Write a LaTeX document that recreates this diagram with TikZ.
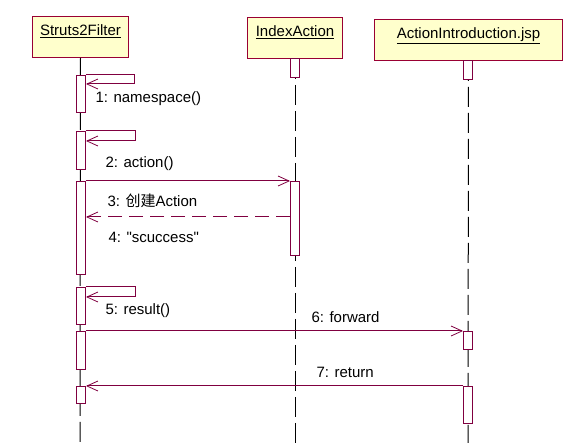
\documentclass[tikz,border=0pt]{standalone}
\usepackage{fontspec}
\setmainfont{Liberation Sans}
\newfontfamily\cjk{Noto Sans CJK SC}
\usetikzlibrary{arrows.meta, positioning}
\definecolor{umlline}{RGB}{128,0,64}
\definecolor{umlborder}{RGB}{153,0,51}
\definecolor{umlfill}{RGB}{255,255,204}

\begin{document}
\begin{tikzpicture}[
    x=1pt, y=-1pt, line width=1pt,
    font=\fontsize{15}{18}\selectfont,
    obj/.style={draw=umlborder, fill=umlfill, minimum height=41pt, anchor=north west, inner sep=0pt},
    act/.style={draw=umlline, fill=white, minimum width=9pt, anchor=north west, inner sep=0pt},
    life/.style={black, dash pattern=on 20pt off 6pt},
    msg/.style={umlline, -{Straight Barb[length=11pt, width=10pt, line width=0.8pt]}},
    ret/.style={msg, dash pattern=on 14pt off 7pt},
    lbl/.style={anchor=west, inner sep=0pt},
]
\useasboundingbox (0,0) rectangle (579,443);
% objects
\node[obj, minimum width=96pt] (filter) at (32,16) {};
\node[anchor=north] at ([yshift=-5pt]filter.north) {\underline{Struts2Filter}};
\node[obj, minimum width=95pt] (index) at (247,17) {};
\node[anchor=north] at ([yshift=-5pt]index.north) {\underline{IndexAction}};
\node[obj, minimum width=188pt] (jsp) at (374,19) {};
\node[anchor=north] at ([yshift=-5pt]jsp.north) {\underline{ActionIntroduction.jsp}};
% lifelines
\coordinate (filterEnd) at (80,443);
\coordinate (indexEnd) at (295,443);
\coordinate (jspEnd) at (468,443);
\draw[life] (filter.south) -- (filterEnd);
\draw[life] (index.south) -- (indexEnd);
\draw[life] (jsp.south) -- (jspEnd);
% activations
\node[act, minimum height=37pt] (f1) at (76,75) {};
\node[act, minimum height=38pt] (f2) at (76,131) {};
\node[act, minimum height=93pt] (f3) at (76,181) {};
\node[act, minimum height=37pt] (f4) at (76,287) {};
\node[act, minimum height=38pt] (f5) at (76,331) {};
\node[act, minimum height=17pt] (f6) at (76,386) {};
\node[act, minimum height=19pt] (i0) at (290,58) {};
\node[act, minimum height=74pt] (i1) at (290,181) {};
\node[act, minimum height=19pt] (j0) at (463,60) {};
\node[act, minimum height=18pt] (j1) at (463,331) {};
\node[act, minimum height=37pt] (j2) at (463,386) {};
% messages
\draw[msg] (f1.north east) -- ++(48,0) |- ([yshift=-9pt]f1.north east);
\node[lbl] (m1) at (95,99) {1: namespace()};
\draw[msg] (f2.north east) -- ++(49,0) |- ([yshift=-10pt]f2.north east);
\node[lbl] (m2) at (105,164) {2: action()};
\draw[msg] (f3.north east) -- (i1.north west);
\node[lbl] (m3) at (107,201) {3: {\cjk 创建}Action};
\draw[ret] ([yshift=-36pt]i1.north west) -- ([yshift=-36pt]f3.north east);
\node[lbl] (m4) at (108,237) {4: \textquotedbl scuccess\textquotedbl};
\draw[msg] (f4.north east) -- ++(49,0) |- ([yshift=-10pt]f4.north east);
\node[lbl] (m5) at (105,311) {5: result()};
\draw[msg] (f5.north east) -- (j1.north west);
\node[lbl] (m6) at (311,317) {6: forward};
\draw[msg] (j2.north west) -- (f6.north east);
\node[lbl] (m7) at (316,372) {7: return};
\end{tikzpicture}
\end{document}
